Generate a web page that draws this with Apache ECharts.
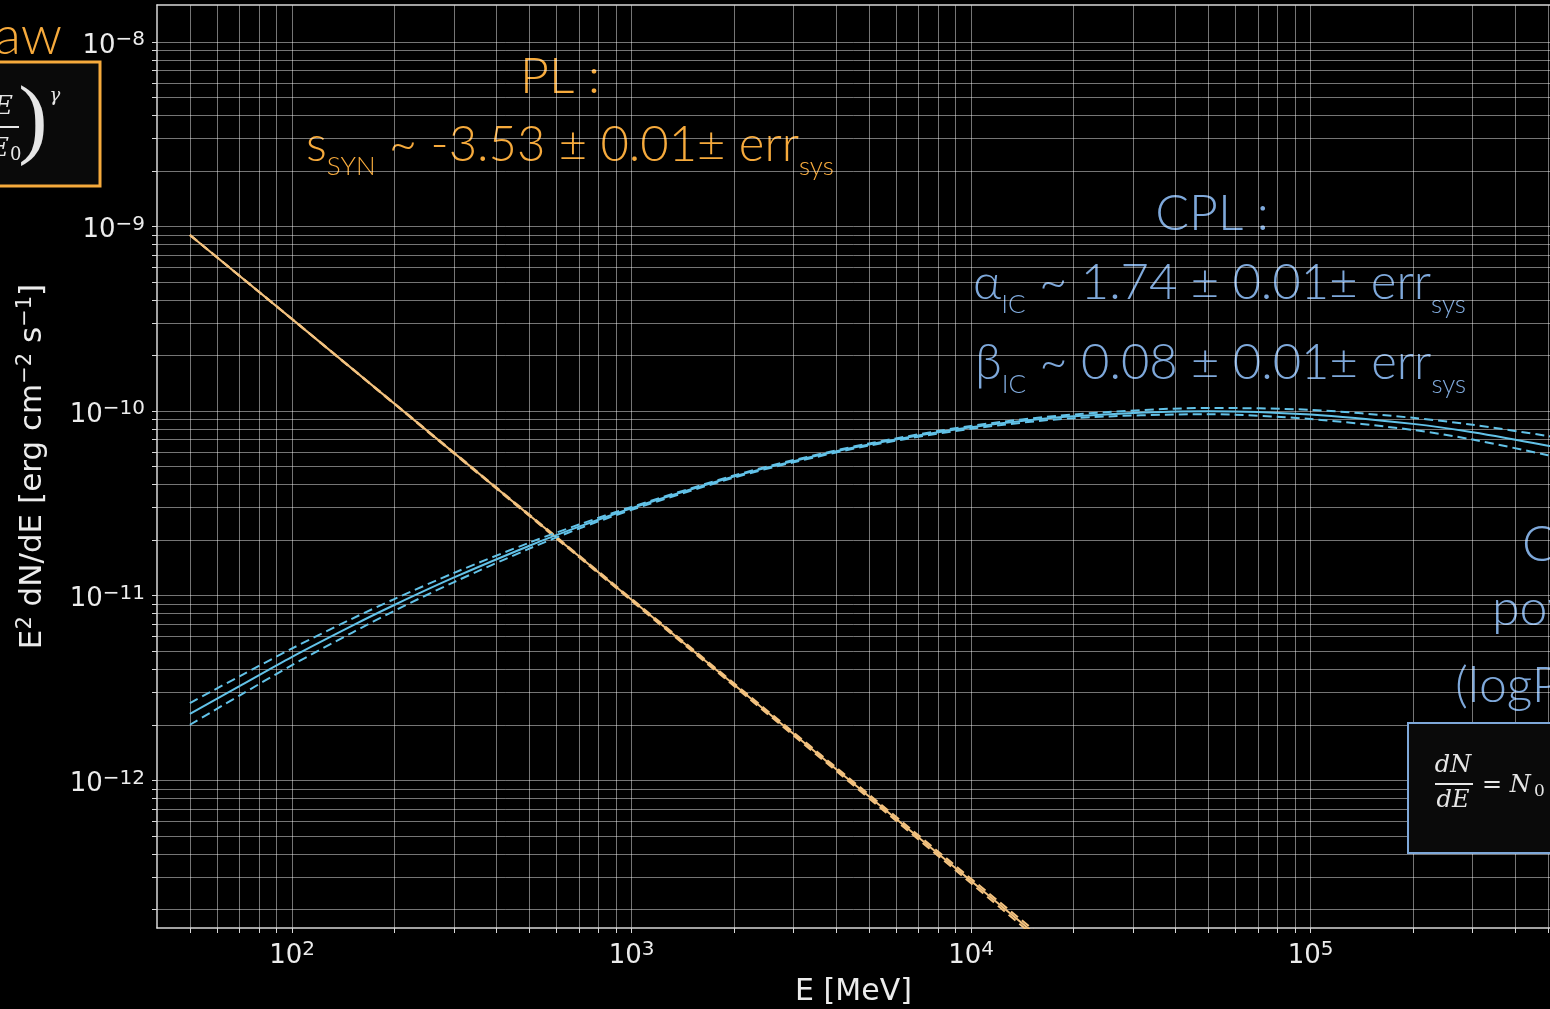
<!DOCTYPE html>
<html><head><meta charset="utf-8">
<script src="https://cdn.jsdelivr.net/npm/echarts@6/dist/echarts.min.js"></script>
<style>html,body{margin:0;padding:0;background:#000;}#c{width:1550px;height:1009px;}</style>
</head><body><div id="c"></div>
<script>
// ---- data ----
const energyPL = [50, 100, 1000, 10000, 20000];
const fluxPL = [9.0e-10, 3.15e-10, 9.5e-12, 2.85e-13, 9.9e-14];
const fluxPLUpper = [9.02e-10, 3.155e-10, 9.62e-12, 2.93e-13, 1.03e-13];
const fluxPLLower = [8.98e-10, 3.145e-10, 9.38e-12, 2.77e-13, 0.95e-13];

const energyCPL = [50, 70, 100, 150, 200, 300, 500, 700, 1000, 2000, 3000, 5000, 1e4, 2e4, 5e4, 1e5, 2e5, 3e5, 5e5, 6e5];
const fluxCPL = [2.29e-12, 3.24e-12, 4.67e-12, 6.87e-12, 8.91e-12, 1.256e-11, 1.866e-11, 2.366e-11, 2.98e-11, 4.42e-11, 5.36e-11, 6.59e-11, 8.17e-11, 9.38e-11, 1.00e-10, 9.59e-11, 8.53e-11, 7.69e-11, 6.50e-11, 6.05e-11];
const fluxCPLUpper = [2.62e-12, 3.66e-12, 5.18e-12, 7.50e-12, 9.59e-12, 1.330e-11, 1.94e-11, 2.43e-11, 3.03e-11, 4.48e-11, 5.43e-11, 6.68e-11, 8.32e-11, 9.59e-11, 1.04e-10, 1.016e-10, 9.20e-11, 8.43e-11, 7.33e-11, 6.89e-11];
const fluxCPLLower = [2.00e-12, 2.88e-12, 4.21e-12, 6.30e-12, 8.28e-12, 1.186e-11, 1.80e-11, 2.31e-11, 2.92e-11, 4.36e-11, 5.28e-11, 6.50e-11, 8.02e-11, 9.16e-11, 9.62e-11, 9.06e-11, 7.91e-11, 7.01e-11, 5.77e-11, 5.32e-11];

const xMajorTicks = [100, 1000, 10000, 100000];
const xMinorTicks = [50, 60, 70, 80, 90, 200, 300, 400, 500, 600, 700, 800, 900,
  2000, 3000, 4000, 5000, 6000, 7000, 8000, 9000,
  20000, 30000, 40000, 50000, 60000, 70000, 80000, 90000,
  200000, 300000, 400000, 500000];
const yMajorTicks = [1e-12, 1e-11, 1e-10, 1e-9, 1e-8];
const yMinorTicks = [2e-13, 3e-13, 4e-13, 5e-13, 6e-13, 7e-13, 8e-13, 9e-13,
  2e-12, 3e-12, 4e-12, 5e-12, 6e-12, 7e-12, 8e-12, 9e-12,
  2e-11, 3e-11, 4e-11, 5e-11, 6e-11, 7e-11, 8e-11, 9e-11,
  2e-10, 3e-10, 4e-10, 5e-10, 6e-10, 7e-10, 8e-10, 9e-10,
  2e-9, 3e-9, 4e-9, 5e-9, 6e-9, 7e-9, 8e-9, 9e-9];

const xLimits = [40, 5.07e5];
const yLimits = [1.585e-13, 1.585e-8];

const xTitle = 'E [MeV]';
const yTitle = 'E{s|2} dN/dE [erg cm{s|\u22122} s{s|\u22121}]';

// ---- styling ----
const ORANGE = '#f6aa3c';
const BLUE = '#7ea8da';
const PL_COLOR = '#f3c27f';
const CPL_COLOR = '#62c2e8';
const GRID = 'rgba(255,255,255,0.46)';
const AX = '#d8d8d8';
const TXT = '#ececec';
const GF = 'Lato, "Open Sans", sans-serif';
const MF = '"DejaVu Sans", sans-serif';

function pairs(xs, ys) { return xs.map((x, i) => [x, ys[i]]); }
function powLabel(v) {
  const p = Math.round(Math.log10(v));
  return '{b|10}{s|' + (p < 0 ? '\u2212' + (-p) : p) + '}';
}
const tickRich = {
  b: { fontSize: 26, fontFamily: MF, color: TXT, lineHeight: 32 },
  s: { fontSize: 20, fontFamily: MF, color: TXT, lineHeight: 20, verticalAlign: 'top' }
};

const chart = echarts.init(document.getElementById('c'), null, { renderer: 'canvas' });

function lineSeries(name, xs, ys, color, dashed) {
  return {
    name, type: 'line', xAxisIndex: 0, yAxisIndex: 0,
    data: pairs(xs, ys), showSymbol: false, symbol: 'none',
    smooth: xs.length > 6 ? 0.3 : false,
    lineStyle: { color, width: 2, type: dashed ? [9, 5] : 'solid' },
    silent: true, animation: false
  };
}

function richLine(main, sub1, rest, sub2, color) {
  const m = { fontSize: 49, lineHeight: 70, fontFamily: GF, fontWeight: 300, fill: color, color: color };
  const sb = { fontSize: 26, lineHeight: 26, fontFamily: GF, fontWeight: 300, fill: color, color: color, verticalAlign: 'bottom' };
  return {
    text: '{m|' + main + '}{sb|' + sub1 + '}{m|' + rest + '}{sb|' + sub2 + '}',
    rich: { m, sb }
  };
}

const serif = '"DejaVu Serif", "Liberation Serif", serif';

const option = {
  backgroundColor: '#000',
  animation: false,
  grid: { left: 157, right: 0, top: 5, bottom: 81, containLabel: false, outerBoundsMode: 'none' },
  xAxis: [{
    type: 'log', min: xLimits[0], max: xLimits[1],
    name: xTitle, nameLocation: 'middle', nameGap: 49,
    nameTextStyle: { fontSize: 30, fontFamily: MF, color: TXT },
    axisLine: { show: true, lineStyle: { color: AX, width: 1.5 } },
    axisTick: { show: true, length: 5, inside: false, lineStyle: { color: AX, width: 1 }, customValues: xMajorTicks.concat(xMinorTicks) },
    axisLabel: { customValues: xMajorTicks, formatter: powLabel, rich: tickRich, margin: 12 },
    splitLine: { show: true, lineStyle: { color: GRID, width: 1 } },
    minorTick: { show: false }, minorSplitLine: { show: false }
  }, {
    type: 'log', min: xLimits[0], max: xLimits[1], position: 'top',
    axisLine: { show: true, onZero: false, lineStyle: { color: AX, width: 1.5 } },
    axisTick: { show: false }, axisLabel: { show: false }, splitLine: { show: false }
  }],
  yAxis: [{
    type: 'log', min: yLimits[0], max: yLimits[1],
    name: yTitle, nameLocation: 'middle', nameGap: 106, nameRotate: 90,
    nameTextStyle: { fontSize: 31, fontFamily: MF, color: TXT, lineHeight: 36,
      rich: { s: { fontSize: 21, fontFamily: MF, color: TXT, lineHeight: 21, verticalAlign: 'top' } } },
    axisLine: { show: true, lineStyle: { color: AX, width: 1.5 } },
    axisTick: { show: true, length: 5, lineStyle: { color: AX, width: 1 }, customValues: yMajorTicks.concat(yMinorTicks) },
    axisLabel: { customValues: yMajorTicks, formatter: powLabel, rich: tickRich, margin: 12, padding: [8, 0, 0, 0] },
    splitLine: { show: true, lineStyle: { color: GRID, width: 1 } },
    minorTick: { show: false }, minorSplitLine: { show: false }
  }],
  series: [
    lineSeries('PL', energyPL, fluxPL, PL_COLOR, false),
    lineSeries('PL upper', energyPL, fluxPLUpper, PL_COLOR, true),
    lineSeries('PL lower', energyPL, fluxPLLower, PL_COLOR, true),
    lineSeries('CPL', energyCPL, fluxCPL, CPL_COLOR, false),
    lineSeries('CPL upper', energyCPL, fluxCPLUpper, CPL_COLOR, true),
    lineSeries('CPL lower', energyCPL, fluxCPLLower, CPL_COLOR, true)
  ],
  graphic: [
    // slide texts (behind grid)
    { type: 'text', z: -1, x: 62, y: 37, style: { text: 'Power law', fill: ORANGE, font: '300 54px ' + GF, align: 'right', verticalAlign: 'middle' } },
    { type: 'text', z: -1, x: 560, y: 77, style: { text: 'PL :', fill: ORANGE, font: '300 50px ' + GF, align: 'center', verticalAlign: 'middle' } },
    { type: 'text', z: -1, x: 306, y: 110, style: Object.assign({ align: 'left', verticalAlign: 'top' }, richLine('s', 'SYN', ' ~ -3.53 \u00b1 0.01\u00b1 err', 'sys', ORANGE)) },
    { type: 'text', z: -1, x: 1212, y: 214, style: { text: 'CPL :', fill: BLUE, font: '300 50px ' + GF, align: 'center', verticalAlign: 'middle' } },
    { type: 'text', z: -1, x: 973, y: 248, style: Object.assign({ align: 'left', verticalAlign: 'top' }, richLine('\u03b1', 'IC', ' ~ 1.74 \u00b1 0.01\u00b1 err', 'sys', BLUE)) },
    { type: 'text', z: -1, x: 975, y: 328, style: Object.assign({ align: 'left', verticalAlign: 'top' }, richLine('\u03b2', 'IC', ' ~ 0.08 \u00b1 0.01\u00b1 err', 'sys', BLUE)) },
    { type: 'text', z: -1, x: 1522, y: 545, style: { text: 'Curved', fill: BLUE, font: '300 50px ' + GF, align: 'left', verticalAlign: 'middle' } },
    { type: 'text', z: -1, x: 1492, y: 609, style: { text: 'power law', fill: BLUE, font: '300 50px ' + GF, align: 'left', verticalAlign: 'middle' } },
    { type: 'text', z: -1, x: 1455, y: 686, style: { text: '(logParabola)', fill: BLUE, font: '300 50px ' + GF, align: 'left', verticalAlign: 'middle' } },
    // orange formula box
    { type: 'rect', z: 10, shape: { x: -10, y: 62, width: 110, height: 124 }, style: { fill: '#0a0a0a', stroke: ORANGE, lineWidth: 3 } },
    { type: 'text', z: 11, x: 13, y: 107, style: { text: 'E', fill: '#e6e6e6', font: 'italic 26px ' + serif, align: 'right', verticalAlign: 'middle' } },
    { type: 'line', z: 11, shape: { x1: -5, y1: 127, x2: 19, y2: 127 }, style: { stroke: '#e6e6e6', lineWidth: 2 } },
    { type: 'text', z: 11, x: 9, y: 149, style: { text: 'E', fill: '#e6e6e6', font: 'italic 26px ' + serif, align: 'right', verticalAlign: 'middle' } },
    { type: 'text', z: 11, x: 10, y: 155, style: { text: '0', fill: '#e6e6e6', font: '18px ' + serif, align: 'left', verticalAlign: 'middle' } },
    { type: 'text', z: 11, x: 33, y: 124, style: { text: ')', fill: '#e6e6e6', font: '88px "Liberation Serif", serif', align: 'center', verticalAlign: 'middle' } },
    { type: 'text', z: 11, x: 55, y: 96, style: { text: '\u03b3', fill: '#e6e6e6', font: 'italic 18px ' + serif, align: 'center', verticalAlign: 'middle' } },
    // blue formula box
    { type: 'rect', z: 10, shape: { x: 1408, y: 723, width: 170, height: 130 }, style: { fill: '#0a0a0a', stroke: BLUE, lineWidth: 2 } },
    { type: 'text', z: 11, x: 1453, y: 766, style: { text: 'dN', fill: '#e6e6e6', font: 'italic 24px ' + serif, align: 'center', verticalAlign: 'middle' } },
    { type: 'line', z: 11, shape: { x1: 1435, y1: 784, x2: 1473, y2: 784 }, style: { stroke: '#e6e6e6', lineWidth: 2 } },
    { type: 'text', z: 11, x: 1453, y: 801, style: { text: 'dE', fill: '#e6e6e6', font: 'italic 24px ' + serif, align: 'center', verticalAlign: 'middle' } },
    { type: 'text', z: 11, x: 1482, y: 786, style: { text: '= N', fill: '#e6e6e6', font: 'italic 24px ' + serif, align: 'left', verticalAlign: 'middle' } },
    { type: 'text', z: 11, x: 1534, y: 792, style: { text: '0', fill: '#e6e6e6', font: '17px ' + serif, align: 'left', verticalAlign: 'middle' } }
  ]
};
chart.setOption(option);
</script>
</body></html>
